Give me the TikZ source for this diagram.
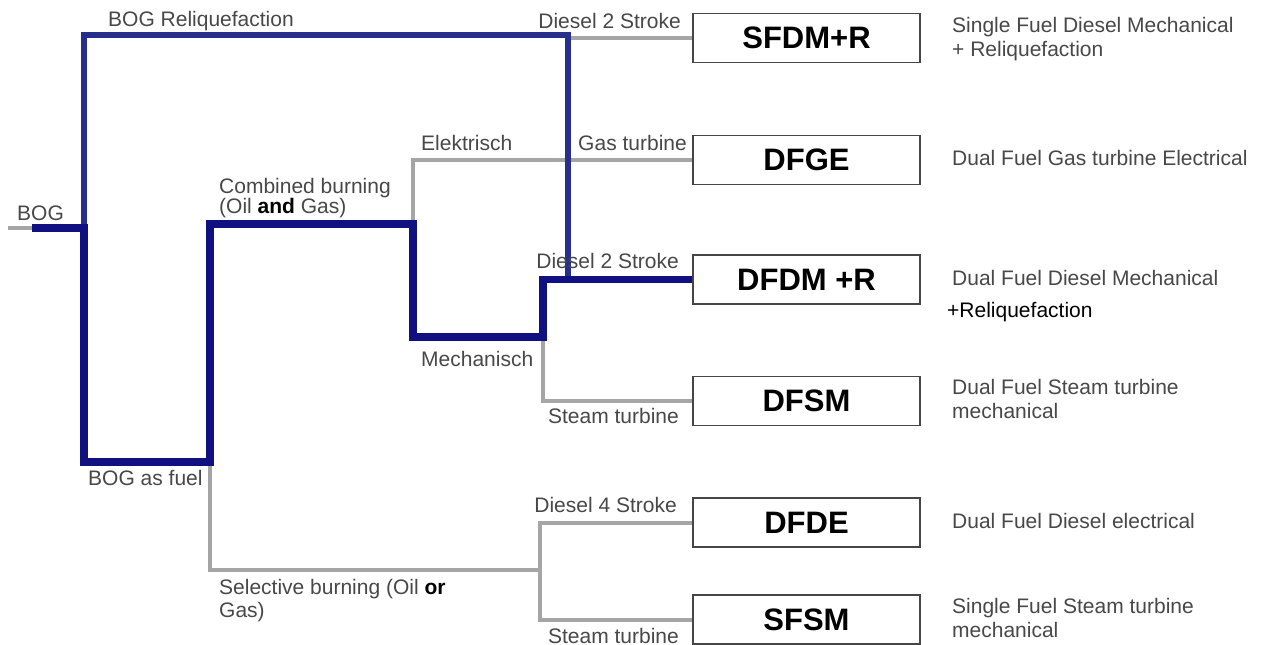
\documentclass[tikz,border=0pt]{standalone}
\usepackage{fontspec}
\setmainfont{Liberation Sans}
\definecolor{navy}{RGB}{16,16,128}
\definecolor{navylight}{RGB}{38,48,140}
\definecolor{pipegray}{RGB}{165,165,165}
\definecolor{labelgray}{RGB}{72,72,72}
\definecolor{boxline}{RGB}{70,70,70}
\begin{document}
\begin{tikzpicture}[x=1pt,y=-1pt]
\tikzset{
  thickpipe/.style={draw=navy, line width=7.5pt},
  thinpipe/.style={draw=navylight, line width=5.5pt},
  graypipe/.style={draw=pipegray, line width=4pt},
  resultbox/.style={draw=boxline, line width=1.6pt, minimum width=227pt, minimum height=49pt, inner sep=0pt, font=\fontsize{31}{36}\selectfont\bfseries},
  lbl/.style={inner sep=0pt, text=labelgray, font=\fontsize{21}{25}\selectfont},
  lw/.style={lbl, anchor=base west},
  le/.style={lbl, anchor=base east}
}
\useasboundingbox[fill=white] (0,0) rectangle (1264,645);

% result boxes
\node[resultbox] (sfdm) at (806.5,38) {SFDM+R};
\node[resultbox] (dfge) at (806.5,160) {DFGE};
\node[resultbox] (dfdm) at (806.5,279.5) {DFDM +R};
\node[resultbox] (dfsm) at (806.5,401) {DFSM};
\node[resultbox] (dfde) at (806.5,522.5) {DFDE};
\node[resultbox] (sfsm) at (806.5,619.5) {SFSM};

% junctions
\coordinate (in) at (8,228);
\coordinate (inblue) at (32,228);
\coordinate (split) at (84,228);
\coordinate (reltop) at (84,35);
\coordinate (relright) at (568,35);
\coordinate (fuelbl) at (84,462);
\coordinate (fuelbr) at (210,462);
\coordinate (combtl) at (210,224);
\coordinate (combtr) at (413,224);
\coordinate (mechl) at (413,337);
\coordinate (mechr) at (543,337);
\coordinate (selr) at (540,570);

% grey pipes
\draw[graypipe] (in) -- (inblue);
\draw[graypipe] (relright |- sfdm.west) -- (sfdm.west);
\draw[graypipe] (combtr) |- (dfge.west);
\draw[graypipe] (mechr) |- (dfsm.west);
\draw[graypipe] (fuelbr) |- (selr);
\draw[graypipe] (dfde.west) -| (selr);
\draw[graypipe] (sfsm.west) -| (selr);

% blue pipes
\draw[thinpipe] (split) -- (reltop) -- (relright) -- (relright |- dfdm.west);
\draw[thickpipe] (inblue) -- (split) -- (fuelbl) -- (fuelbr) -- (combtl) -- (combtr) -- (mechl) -- (mechr) -- (mechr |- dfdm.west) -- (dfdm.west);

% path labels
\node[lw] (tbog) at (17,220) {BOG};
\node[lw] (trel) at (108,27) {BOG Reliquefaction};
\node[le] (td2a) at (681,28) {Diesel 2 Stroke};
\node[lw] (tcomb1) at (219,193) {Combined burning};
\node[lw] (tcomb2) at (219,213) {(Oil {\bfseries\color{black}and} Gas)};
\node[lw] (telek) at (421,150) {Elektrisch};
\node[le] (tgas) at (687,150) {Gas turbine};
\node[le] (td2b) at (679,268) {Diesel 2 Stroke};
\node[lw] (tmech) at (421,366) {Mechanisch};
\node[le] (tst1) at (679,423) {Steam turbine};
\node[lw] (tfuel) at (88,485) {BOG as fuel};
\node[le] (td4) at (677,512) {Diesel 4 Stroke};
\node[lw] (tsel1) at (219,594) {Selective burning (Oil {\bfseries\color{black}or}};
\node[lw] (tsel2) at (219,617) {Gas)};
\node[le] (tst2) at (679,643) {Steam turbine};

% descriptions
\node[lw] (d1a) at (952,32) {Single Fuel Diesel Mechanical};
\node[lw] (d1b) at (952,56) {+ Reliquefaction};
\node[lw] (d2) at (952,165) {Dual Fuel Gas turbine Electrical};
\node[lw] (d3a) at (952,285) {Dual Fuel Diesel Mechanical};
\node[lw, text=black] (d3b) at (947,317) {+Reliquefaction};
\node[lw] (d4a) at (952,394) {Dual Fuel Steam turbine};
\node[lw] (d4b) at (952,418) {mechanical};
\node[lw] (d5) at (952,528) {Dual Fuel Diesel electrical};
\node[lw] (d6a) at (952,613) {Single Fuel Steam turbine};
\node[lw] (d6b) at (952,637) {mechanical};
\end{tikzpicture}
\end{document}
